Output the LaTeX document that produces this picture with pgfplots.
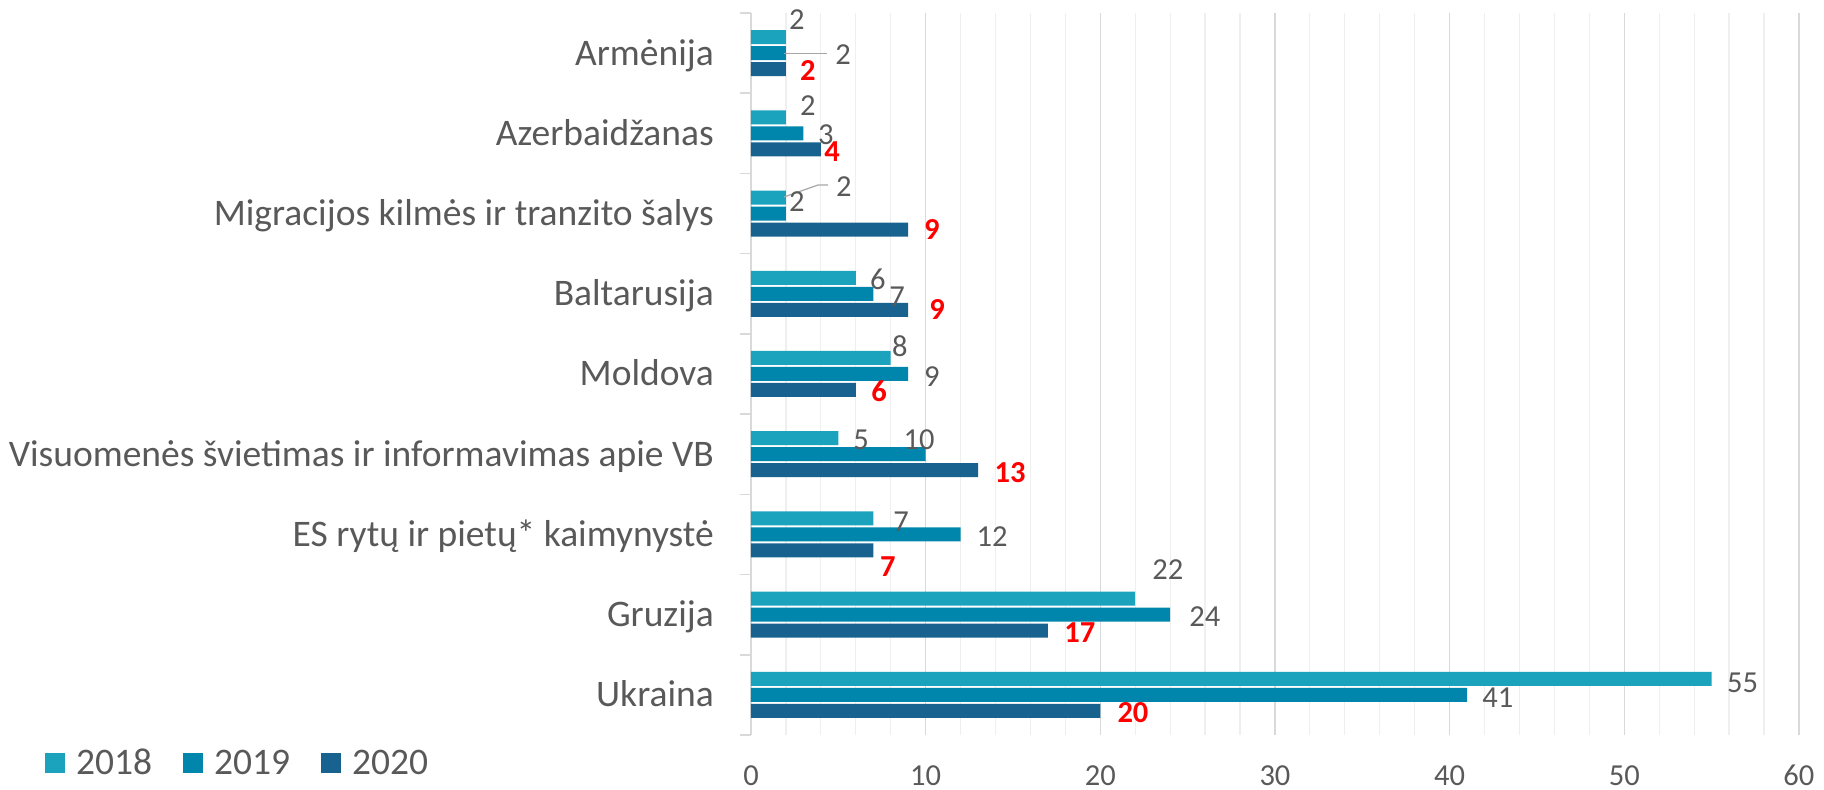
\documentclass[border=0pt]{standalone}
\usepackage{pgfplots}
\pgfplotsset{compat=1.18}
\usepackage{fontspec}
\setmainfont{Carlito}
\definecolor{c18}{HTML}{1BA3BE}
\definecolor{c19}{HTML}{0086AC}
\definecolor{c20}{HTML}{17628E}
\definecolor{tgray}{HTML}{595959}
\definecolor{lgray}{HTML}{D9D9D9}
\definecolor{mgray}{HTML}{EFEFEF}
\definecolor{ldr}{HTML}{A6A6A6}
\newcommand{\catfont}{\fontsize{37.5}{40}\selectfont}
\newcommand{\numfont}{\fontsize{30.5}{33}\selectfont}
\pgfplotsset{sqleg/.style={legend image code/.code={\fill[##1] (0pt,-10pt) rectangle (20pt,10pt); \path (31pt,0pt);}}}
\tikzset{gl/.style={font=\numfont, text=tgray, inner sep=0pt, text height=19.2pt, text depth=0pt},
         rl/.style={font=\numfont\bfseries, text=red, inner sep=0pt, text height=19.2pt, text depth=0pt}}
\begin{document}
\begin{tikzpicture}
\useasboundingbox (0pt,0pt) rectangle (1824pt,790pt);
\begin{axis}[
  at={(751pt,55pt)}, anchor=south west,
  scale only axis, width=1048pt, height=722pt,
  clip=false,
  xbar, bar width=14pt,
  xmin=0, xmax=60, ymin=-0.5, ymax=8.5,
  xtick={0,10,...,60}, minor xtick={2,4,...,58},
  ytick={0,...,8},
  yticklabels={Ukraina, Gruzija, ES rytų ir pietų* kaimynystė, Visuomenės švietimas ir informavimas apie VB, Moldova, Baltarusija, Migracijos kilmės ir tranzito šalys, Azerbaidžanas, Armėnija},
  minor ytick={-0.5,0.5,...,8.5},
  xmajorgrids, xminorgrids,
  major grid style={lgray, line width=1.5pt},
  minor grid style={mgray, line width=1.2pt},
  axis lines*=left, axis line style={-},
  separate axis lines,
  x axis line style={draw=none},
  y axis line style={-, lgray, line width=1.5pt},
  tick align=outside, major tick length=0pt, minor tick length=11pt,
  major tick style={draw=none},
  minor x tick style={draw=none},
  minor y tick style={lgray, line width=1.5pt},
  xtick pos=bottom, ytick pos=left,
  /pgf/number format/assume math mode=true,
  xticklabel style={font=\numfont, text=tgray, anchor=north, inner sep=0pt, text height=19.2pt, text depth=0pt, yshift=-31pt},
  yticklabel style={font=\catfont, text=tgray, anchor=east, inner sep=0pt, text height=24pt, text depth=0pt, xshift=-37pt},
  legend style={at={(-0.6737,-0.0388)}, anchor=west, legend columns=3, draw=none, fill=none,
    inner sep=0pt, outer sep=0pt, font=\catfont, text=tgray, column sep=0pt,
    /tikz/every even column/.append style={column sep=31pt},
    nodes={inner sep=0pt, text height=23.6pt, text depth=0pt}},
  legend cell align=left,
]
\addplot[fill=c18, draw=none, bar shift=16pt, sqleg] coordinates {(55,0) (22,1) (7,2) (5,3) (8,4) (6,5) (2,6) (2,7) (2,8)};
\addplot[fill=c19, draw=none, bar shift=0pt, sqleg] coordinates {(41,0) (24,1) (12,2) (10,3) (9,4) (7,5) (2,6) (3,7) (2,8)};
\addplot[fill=c20, draw=none, bar shift=-16pt, sqleg] coordinates {(20,0) (17,1) (7,2) (13,3) (6,4) (9,5) (9,6) (4,7) (2,8)};
\legend{2018,2019,2020}
% leader lines
\draw[ldr, line width=1.2pt] (axis cs:1.89,8) -- (axis cs:4.35,8);
\draw[ldr, line width=1.2pt] (axis cs:1.89,6.207) -- (axis cs:3.84,6.356) -- (axis cs:4.41,6.356);
% Armenija
\node[gl] at (axis cs:2.63,8.413) {2};
\node[gl] at (axis cs:5.27,7.977) {2};
\node[rl] at (axis cs:3.26,7.777) {2};
% Azerbaidzanas
\node[gl] at (axis cs:3.26,7.341) {2};
\node[gl] at (axis cs:4.29,6.979) {3};
\node[rl] at (axis cs:4.64,6.768) {4};
% Migracijos
\node[gl] at (axis cs:5.32,6.331) {2};
\node[gl] at (axis cs:2.63,6.144) {2};
\node[rl] at (axis cs:10.36,5.795) {9};
% Baltarusija
\node[gl] at (axis cs:7.27,5.172) {6};
\node[gl] at (axis cs:8.36,4.960) {7};
\node[rl] at (axis cs:10.65,4.798) {9};
% Moldova
\node[gl] at (axis cs:8.53,4.337) {8};
\node[gl] at (axis cs:10.36,3.963) {9};
\node[rl] at (axis cs:7.33,3.776) {6};
% Visuomenes
\node[gl] at (axis cs:6.30,3.177) {5};
\node[gl] at (axis cs:9.62,3.177) {10};
\node[rl] at (axis cs:14.83,2.766) {13};
% ES
\node[gl] at (axis cs:8.59,2.155) {7};
\node[gl] at (axis cs:13.80,1.968) {12};
\node[rl] at (axis cs:7.84,1.594) {7};
% Gruzija
\node[gl] at (axis cs:23.87,1.557) {22};
\node[gl] at (axis cs:25.99,0.971) {24};
\node[rl] at (axis cs:18.83,0.772) {17};
% Ukraina
\node[gl] at (axis cs:56.78,0.148) {55};
\node[gl] at (axis cs:42.76,-0.039) {41};
\node[rl] at (axis cs:21.87,-0.226) {20};
\end{axis}
\end{tikzpicture}
\end{document}
